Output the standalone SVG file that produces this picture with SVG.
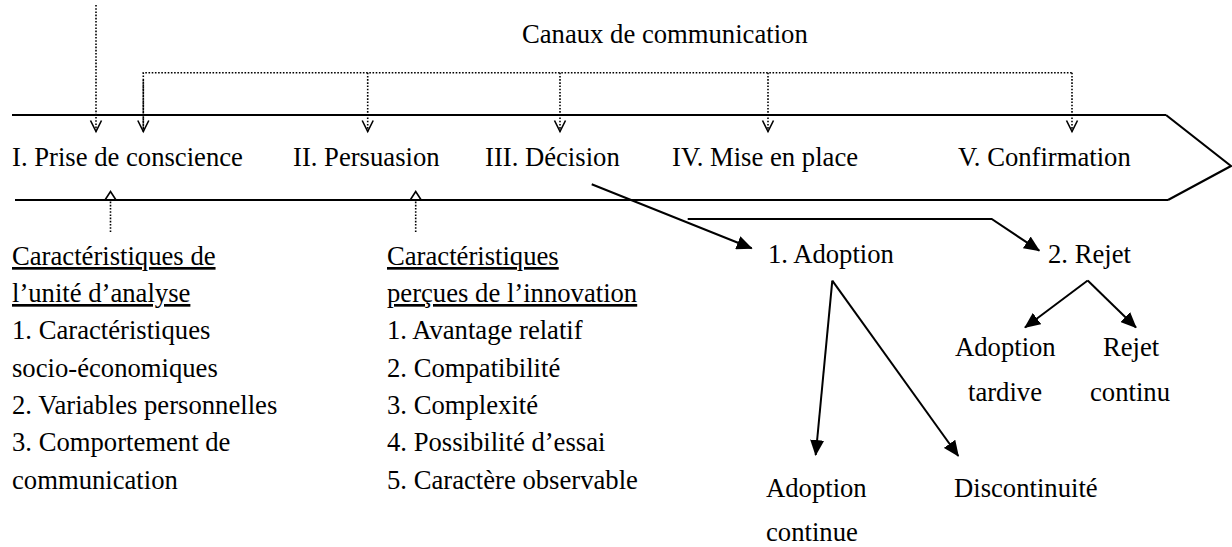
<svg xmlns="http://www.w3.org/2000/svg" width="1232" height="547" viewBox="0 0 1232 547">
<style>
text{font-family:"Liberation Serif","Times New Roman",serif;font-size:26.67px;fill:#000}
.u{text-decoration:underline}
.main{fill:none;stroke:#000;stroke-width:2.2}
.arr{fill:none;stroke:#000;stroke-width:2}
.dot{fill:none;stroke:#000;stroke-width:1.6;stroke-dasharray:1.6 1.6}
.cap{fill:none;stroke:#000;stroke-width:1.6}
</style>
<defs>
<marker id="tri" markerUnits="userSpaceOnUse" markerWidth="16" markerHeight="14" viewBox="0 0 16 14" refX="15" refY="7" orient="auto">
<path d="M0,0 L16,7 L0,14 z" fill="#000"/>
</marker>
<marker id="vee" markerUnits="userSpaceOnUse" markerWidth="14" markerHeight="14" viewBox="-1 -1 14 14" refX="11" refY="5.5" orient="auto">
<path d="M0,0 L11,5.5 L0,11" fill="none" stroke="#000" stroke-width="1.6"/>
</marker>
</defs>
<rect width="1232" height="547" fill="#fff"/>

<g id="process-arrow">
<path class="main" d="M12,115 H1166"/>
<path class="main" d="M15,200 H1168"/>
<path class="main" d="M1166,115 L1231,166 L1168,200"/>
</g>

<g id="canaux"><text x="522" y="43">Canaux de communication</text></g>

<g id="stage1"><text x="12" y="166">I. Prise de conscience</text></g>
<g id="stage2"><text x="293" y="166">II. Persuasion</text></g>
<g id="stage3"><text x="485" y="166">III. Décision</text></g>
<g id="stage4"><text x="672" y="166">IV. Mise en place</text></g>
<g id="stage5"><text x="958" y="166">V. Confirmation</text></g>

<g id="unite">
<text class="u" x="12" y="265">Caractéristiques de</text>
<text class="u" x="12" y="302">l’unité d’analyse</text>
<text x="12" y="339">1. Caractéristiques</text>
<text x="12" y="377">socio-économiques</text>
<text x="12" y="414">2. Variables personnelles</text>
<text x="12" y="451">3. Comportement de</text>
<text x="12" y="489">communication</text>
</g>

<g id="innovation">
<text class="u" x="387" y="265">Caractéristiques</text>
<text class="u" x="387" y="302">perçues de l’innovation</text>
<text x="387" y="339">1. Avantage relatif</text>
<text x="387" y="377">2. Compatibilité</text>
<text x="387" y="414">3. Complexité</text>
<text x="387" y="451">4. Possibilité d’essai</text>
<text x="387" y="489">5. Caractère observable</text>
</g>

<g id="adoption"><text x="768" y="263">1. Adoption</text></g>
<g id="rejet"><text x="1048" y="263">2. Rejet</text></g>
<g id="adoption-tardive"><text x="955" y="356">Adoption</text><text x="968" y="401">tardive</text></g>
<g id="rejet-continu"><text x="1103" y="356">Rejet</text><text x="1090" y="401">continu</text></g>
<g id="adoption-continue"><text x="766" y="497">Adoption</text><text x="766" y="541">continue</text></g>
<g id="discontinuite"><text x="954" y="497">Discontinuité</text></g>

<g id="connectors">
<path class="dot" d="M96,5 V131.5" marker-end="url(#vee)"/>
<path class="dot" d="M143.3,131.5 V72.7 H1072"/>
<path class="dot" d="M143.3,80 V131.5" marker-end="url(#vee)"/>
<path class="dot" d="M367.7,72.7 V131.5" marker-end="url(#vee)"/>
<path class="dot" d="M560,72.7 V131.5" marker-end="url(#vee)"/>
<path class="dot" d="M768,72.7 V131.5" marker-end="url(#vee)"/>
<path class="dot" d="M1072,72.7 V131.5" marker-end="url(#vee)"/>
<path class="dot" d="M110.5,232 V201"/>
<polyline class="cap" points="105,200 110.5,191.5 116,200"/>
<path class="dot" d="M415.7,232 V201"/>
<polyline class="cap" points="410.2,200 415.7,191.5 421.2,200"/>
<path class="arr" d="M591.7,184.3 L751.7,248.3" marker-end="url(#tri)"/>
<path class="arr" d="M687.7,219 H991.7 L1039.3,250.7" marker-end="url(#tri)"/>
<path class="arr" d="M832.3,280.7 L815.7,455" marker-end="url(#tri)"/>
<path class="arr" d="M832.3,280.7 L958.3,456" marker-end="url(#tri)"/>
<path class="arr" d="M1087.7,280.5 L1025,327.5" marker-end="url(#tri)"/>
<path class="arr" d="M1087.7,280.5 L1136,327.5" marker-end="url(#tri)"/>
</g>
</svg>
